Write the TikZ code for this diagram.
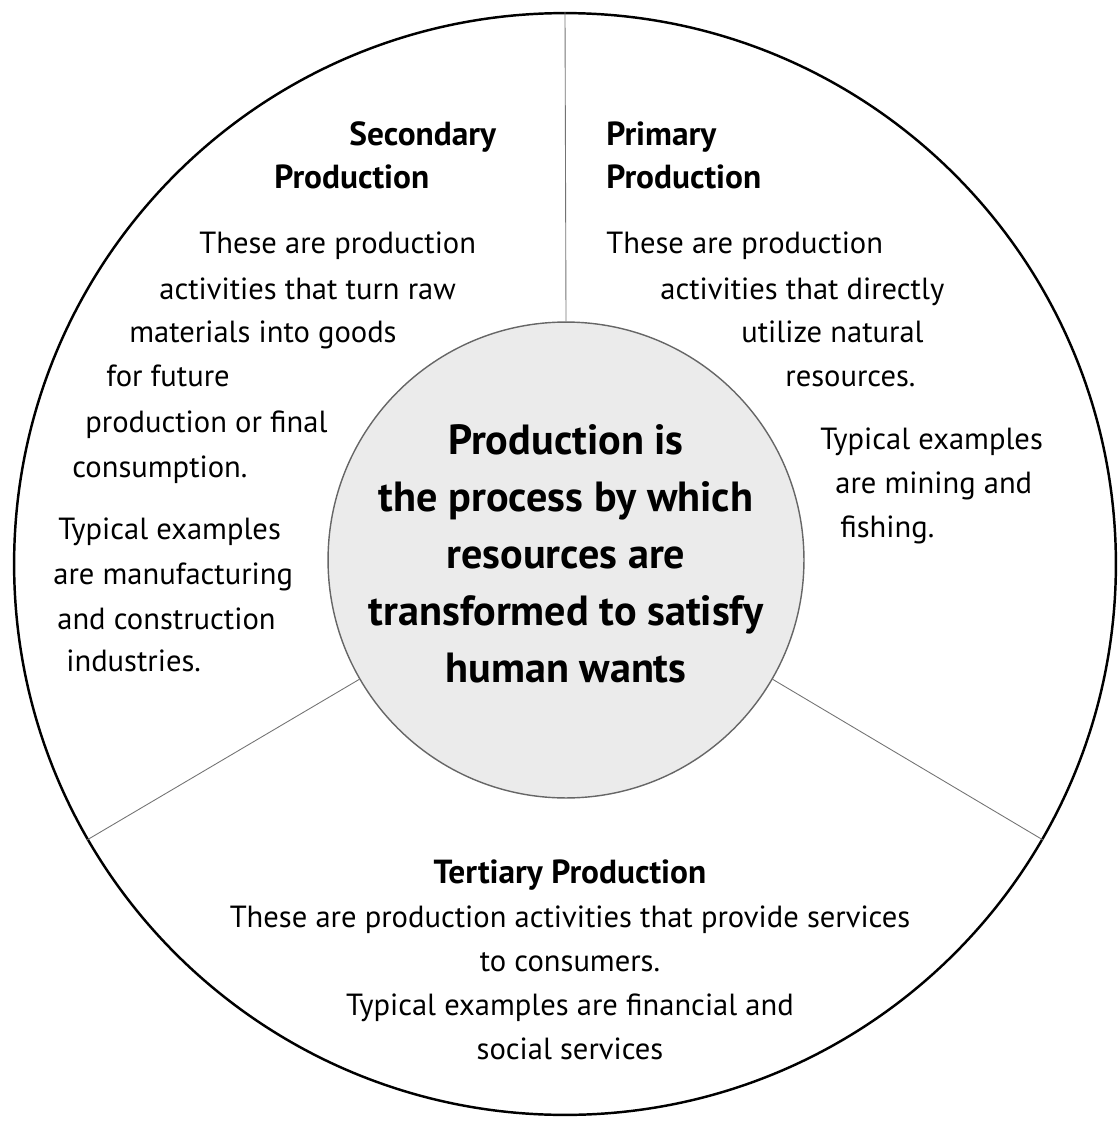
\documentclass[tikz,border=0pt]{standalone}
\usepackage{fontspec}
\setmainfont{PT Sans}
\begin{document}
\begin{tikzpicture}[x=0.02cm, y=-0.02cm,
    ring/.style={circle, draw, line width=1.4pt, minimum size=22.04cm, inner sep=0pt},
    core/.style={circle, draw=black!60, line width=0.8pt, fill=black!8, minimum size=9.52cm, inner sep=0pt},
    divider/.style={draw=black!55, line width=0.5pt},
    body/.style={anchor=base west, inner sep=0pt, font=\fontsize{17.4}{25}\selectfont},
    head/.style={anchor=base west, inner sep=0pt, font=\fontsize{19}{25}\selectfont\bfseries}]

        \useasboundingbox (0,0) rectangle (1117,1125);

        \node[ring] at (565, 564) (ring) {};
        \node[core] at (566, 560) (core) {};

        \path (core.90) edge[divider] (ring.90);
        \path (core.210) edge[divider] (ring.210);
        \path (core.330) edge[divider] (ring.330);

        \node[align=center, font=\fontsize{24}{32.4}\selectfont\bfseries] at (566, 554) (def) {Production is\\the process by which\\resources are\\transformed to satisfy\\human wants};

        \node[head] at (349, 146) (s1) {Secondary};
        \node[head] at (274, 189) (s2) {Production};
        \node[body] at (199, 254) (s3) {These are production};
        \node[body] at (159, 299) (s4) {activities that turn raw};
        \node[body] at (129, 342) (s5) {materials into goods};
        \node[body] at (106, 386) (s6) {for future};
        \node[body] at (85, 432) (s7) {production or final};
        \node[body] at (72, 477) (s8) {consumption.};
        \node[body] at (58, 539) (s9) {Typical examples};
        \node[body] at (53, 584) (s10) {are manufacturing};
        \node[body] at (57, 629) (s11) {and construction};
        \node[body] at (66, 671) (s12) {industries.};

        \node[head] at (606, 146) (p1) {Primary};
        \node[head] at (606, 189) (p2) {Production};
        \node[body] at (606, 254) (p3) {These are production};
        \node[body] at (660, 299) (p4) {activities that directly};
        \node[body] at (741, 342) (p5) {utilize natural};
        \node[body] at (785, 386) (p6) {resources.};
        \node[body] at (820, 449) (p7) {Typical examples};
        \node[body] at (835, 493) (p8) {are mining and};
        \node[body] at (840, 537) (p9) {fishing.};

        \node[align=center, font=\fontsize{17.4}{25}\selectfont] at (570, 960) (t) {{\fontsize{19}{25}\selectfont\bfseries Tertiary Production}\\These are production activities that provide services\\to consumers.\\Typical examples are financial and\\social services};
    \end{tikzpicture}
\end{document}
